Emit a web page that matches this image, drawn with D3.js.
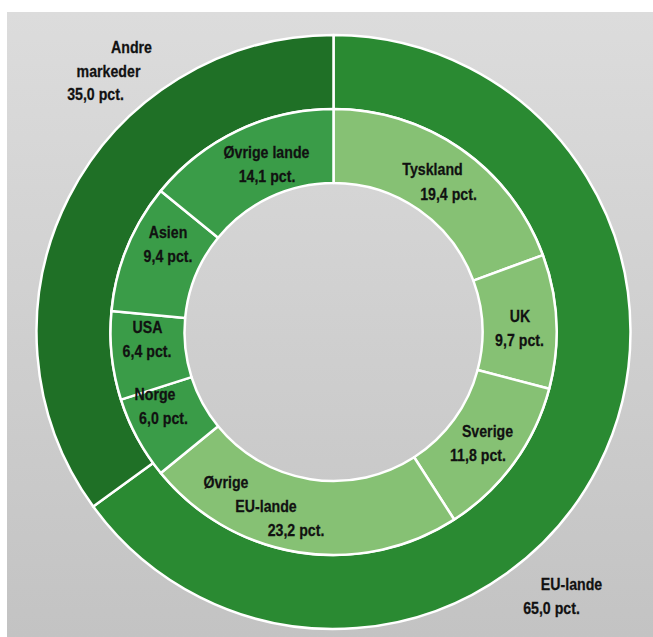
<!DOCTYPE html>
<html>
<head>
<meta charset="utf-8">
<script src="https://cdn.jsdelivr.net/npm/d3@7"></script>
<style>
  body { margin: 0; background: #fff; }
  .label { font-family: "Liberation Sans Narrow", "Arial Narrow", "Liberation Sans", sans-serif; font-weight: bold; font-size: 16.5px; fill: #111; stroke: #111; stroke-width: 0.25px; }
</style>
</head>
<body>
<div id="chart"></div>
<script>
// data
var outerNames = ["EU-lande", "Andre markeder"];
var outerValues = [65.0, 35.0];
var innerNames = ["Tyskland", "UK", "Sverige", "Øvrige EU-lande", "Norge", "USA", "Asien", "Øvrige lande"];
var innerValues = [19.4, 9.7, 11.8, 23.2, 6.0, 6.4, 9.4, 14.1];
var innerGroup = [0, 0, 0, 0, 1, 1, 1, 1];   // 0 = EU, 1 = andre

var width = 653, height = 637;
var cx = 333.5, cy = 332;
var rOuter = 297, rMid = 223, rHole = 149;

var outerColors = ["#2a8a32", "#1f7026"];
var innerColors = ["#86c174", "#3a9c48"];

var da = d3.formatLocale({ decimal: ",", thousands: ".", grouping: [3], currency: ["", " kr"] });
var pct = function (v) { return da.format(".1f")(v) + " pct."; };

// label line breaks and placement (offsets from chart centre, per line)
var lineBreaks = { "Andre markeder": ["Andre", "markeder"], "Øvrige EU-lande": ["Øvrige", "EU-lande"] };
var outerLabelPos = [
    [[238, 252], [218, 276]],
    [[-202, -285], [-225, -261], [-238, -237.5]]
];
var innerLabelPos = [
    [[99, -163], [115, -138]],
    [[186.5, -16], [186, 8]],
    [[154, 99], [144.5, 123]],
    [[-107.5, 150], [-67.5, 174], [-37.5, 198]],
    [[-178.5, 62], [-170, 86]],
    [[-186, -4.5], [-186.5, 19.5]],
    [[-165.5, -100], [-165.5, -75.5]],
    [[-67, -179.5], [-66.5, -155.5]]
];

var svg = d3.select("#chart")
    .append("svg")
    .attr("width", width)
    .attr("height", height);

var grad = svg.append("defs").append("linearGradient")
    .attr("id", "bg").attr("x1", 0).attr("y1", 0).attr("x2", 0).attr("y2", 1);
grad.append("stop").attr("offset", "0%").attr("stop-color", "#dcdcdc");
grad.append("stop").attr("offset", "100%").attr("stop-color", "#c3c3c3");

svg.append("rect")
    .attr("x", 7).attr("y", 12)
    .attr("width", width - 7).attr("height", height - 12)
    .attr("fill", "url(#bg)");

var g = svg.append("g")
    .attr("transform", "translate(" + cx + "," + cy + ")");

var pie = d3.pie().sort(null).value(d => d);
var outerArc = d3.arc().innerRadius(rMid).outerRadius(rOuter);
var innerArc = d3.arc().innerRadius(rHole).outerRadius(rMid);

g.selectAll(".outer")
    .data(pie(outerValues))
    .enter().append("path")
    .attr("class", "outer")
    .attr("d", outerArc)
    .attr("fill", (d, i) => outerColors[i])
    .attr("stroke", "#fff")
    .attr("stroke-width", 2.5)
    .attr("stroke-linejoin", "round");

g.selectAll(".inner")
    .data(pie(innerValues))
    .enter().append("path")
    .attr("class", "inner")
    .attr("d", innerArc)
    .attr("fill", (d, i) => innerColors[innerGroup[i]])
    .attr("stroke", "#fff")
    .attr("stroke-width", 2.5)
    .attr("stroke-linejoin", "round");

// condensed look: squeeze the glyphs horizontally
function addLabel(name, value, pos) {
    var lines = (lineBreaks[name] || [name]).concat([pct(value)]);
    lines.forEach(function (t, k) {
        g.append("text")
            .attr("class", "label")
            .attr("transform", "translate(" + pos[k][0] + "," + pos[k][1] + ") scale(0.86,1)")
            .attr("dy", "0.36em")
            .attr("text-anchor", "middle")
            .text(t);
    });
}

outerNames.forEach((n, i) => addLabel(n, outerValues[i], outerLabelPos[i]));
innerNames.forEach((n, i) => addLabel(n, innerValues[i], innerLabelPos[i]));
</script>
</body>
</html>
